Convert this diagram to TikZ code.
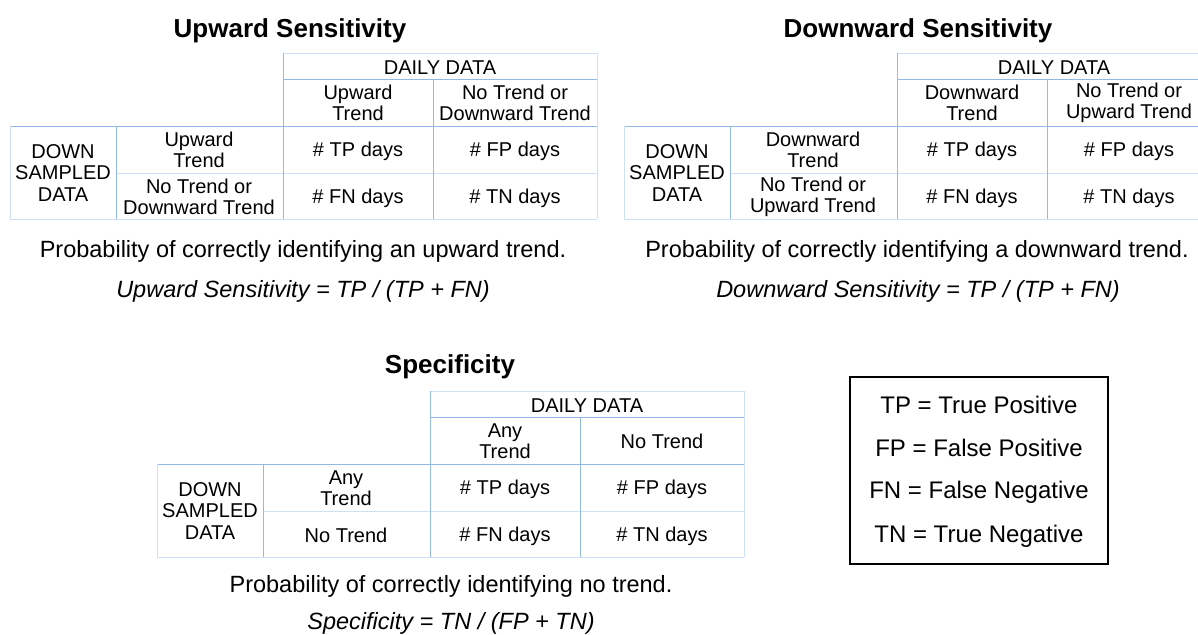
\documentclass[tikz,border=0pt]{standalone}
\usepackage{fontspec}
\setmainfont{Liberation Sans}
\definecolor{gridblue}{RGB}{146,186,228}
\definecolor{gridpale}{RGB}{205,224,245}
\tikzset{
  cell/.style={align=center, inner sep=0pt, font=\fontsize{20}{21.5}\selectfont},
  heading/.style={inner sep=0pt, font=\fontsize{26}{30}\selectfont\bfseries},
  caption/.style={inner sep=0pt, font=\fontsize{23.5}{28}\selectfont},
  keytext/.style={inner sep=0pt, font=\fontsize{24}{28}\selectfont},
  gridline/.style={gridblue, line width=0.8pt},
  paleline/.style={gridpale, line width=0.8pt},
}
% #1,#2 shift, #3 name prefix, #4/#5 column heads, #6/#7 row heads
\newcommand{\trendtable}[7]{%
  \begin{scope}[shift={(#1,#2)}]
    % frame
    \draw[paleline] (283,53) -- (597,53);
    \draw[gridline] (283,79) -- (597,79);
    \draw[gridline] (10,126) -- (597,126);
    \draw[paleline] (116,173) -- (597,173);
    \draw[paleline] (10,219) -- (597,219);
    \draw[paleline] (10,126) -- (10,219);
    \draw[gridline] (116,126) -- (116,219);
    \draw[gridline] (283,53) -- (283,219);
    \draw[gridline] (433,79) -- (433,219);
    \draw[paleline] (597,53) -- (597,219);
    % texts
    \node[cell] (#3daily) at (440,68) {DAILY DATA};
    \node[cell] (#3colA) at (358,103) {#4};
    \node[cell] (#3colB) at (515,103) {#5};
    \node[cell] (#3down) at (63,173) {DOWN\\SAMPLED\\DATA};
    \node[cell] (#3rowA) at (199,150) {#6};
    \node[cell] (#3rowB) at (199,197) {#7};
    \node[cell] (#3tp) at (358,151) {\# TP days};
    \node[cell] (#3fp) at (515,151) {\# FP days};
    \node[cell] (#3fn) at (358,198) {\# FN days};
    \node[cell] (#3tn) at (515,198) {\# TN days};
  \end{scope}}
\begin{document}
\begin{tikzpicture}[x=1pt,y=-1pt]
  \useasboundingbox[fill=white] (0,0) rectangle (1198,634);
  \node[heading] (upTitle) at (290,31) {Upward Sensitivity};
  \node[heading] (downTitle) at (918,31) {Downward Sensitivity};
  \node[heading] (specTitle) at (450,367) {Specificity};
  \trendtable{0}{0}{up}{Upward\\Trend}{No Trend or\\Downward Trend}%
    {Upward\\Trend}{No Trend or\\Downward Trend}
  \trendtable{614}{0}{dn}{Downward\\Trend}{No Trend or\\Upward Trend}%
    {Downward\\Trend}{No Trend or\\Upward Trend}
  \trendtable{147}{338}{sp}{Any\\Trend}{No Trend}{Any\\Trend}{No Trend}
  % captions
  \node[caption] (upText) at (303,251) {Probability of correctly identifying an upward trend.};
  \node[caption] (upFormula) at (303,291) {\itshape Upward Sensitivity = TP / (TP + FN)};
  \node[caption] (dnText) at (917,251) {Probability of correctly identifying a downward trend.};
  \node[caption] (dnFormula) at (918,291) {\itshape Downward Sensitivity = TP / (TP + FN)};
  \node[caption] (spText) at (451,586) {Probability of correctly identifying no trend.};
  \node[caption] (spFormula) at (451,623) {\itshape Specificity = TN / (FP + TN)};
  % key
  \draw[line width=1.1pt] (850,377) rectangle (1108,564);
  \node[keytext] (keyTP) at (979,405) {TP = True Positive};
  \node[keytext] (keyFP) at (979,448) {FP = False Positive};
  \node[keytext] (keyFN) at (979,492) {FN = False Negative};
  \node[keytext] (keyTN) at (979,536) {TN = True Negative};
\end{tikzpicture}
\end{document}
